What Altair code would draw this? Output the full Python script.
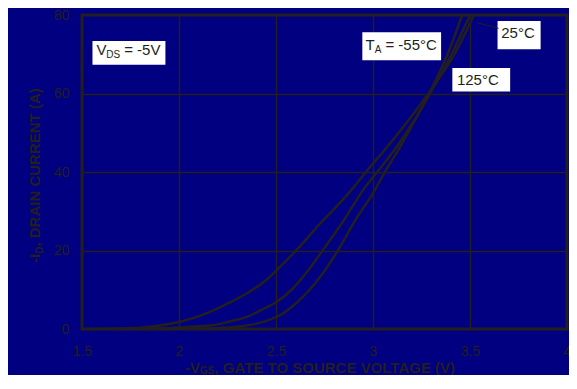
import altair as alt
import pandas as pd

# ---- curve data ----
series_names = ["125°C", "25°C", "-55°C"]

vgs_125 = [1.50, 1.60, 1.70, 1.80, 1.90, 2.00, 2.10, 2.18, 2.26, 2.35, 2.45, 2.51,
           2.59, 2.66, 2.73, 2.81, 2.89, 2.96, 3.06, 3.18, 3.30, 3.42, 3.52]
id_125 = [0.0, 0.05, 0.15, 0.35, 0.9, 1.8, 3.2, 4.8, 6.7, 9.1, 12.5, 15.3,
          19.3, 23.1, 27.0, 31.1, 35.5, 39.8, 45.6, 53.0, 61.0, 70.0, 80.0]

vgs_25 = [1.70, 1.85, 2.00, 2.10, 2.18, 2.26, 2.35, 2.43, 2.50, 2.58, 2.66, 2.74,
          2.84, 2.96, 3.02, 3.11, 3.21, 3.30, 3.40, 3.50]
id_25 = [0.0, 0.1, 0.4, 0.7, 1.0, 1.9, 3.1, 5.0, 6.8, 10.0, 14.6, 20.0,
         27.0, 36.2, 39.9, 45.6, 53.0, 60.5, 69.5, 80.0]

vgs_m55 = [1.90, 2.10, 2.26, 2.34, 2.41, 2.47, 2.52, 2.59, 2.67, 2.75, 2.82, 2.91,
           3.00, 3.06, 3.13, 3.22, 3.30, 3.38, 3.46]
id_m55 = [0.0, 0.1, 0.4, 0.8, 1.5, 2.4, 3.5, 6.0, 9.8, 14.8, 20.1, 27.8,
          34.6, 39.9, 45.6, 53.5, 61.0, 69.5, 80.0]

x_ticks = [1.5, 2, 2.5, 3, 3.5, 4]
y_ticks = [0, 20, 40, 60, 80]

# ---- annotation boxes and labels (data units) ----
box_x1 = [1.554, 2.945, 3.642, 3.409]
box_x2 = [1.930, 3.351, 3.864, 3.707]
box_y1 = [67.3, 68.5, 71.3, 60.5]
box_y2 = [73.4, 75.6, 78.5, 66.5]

label_text = ["V", "DS", "= -5V", "T", "A", "= -55°C", "25°C", "125°C"]
label_x = [1.5746, 1.6254, 1.7173, 2.9619, 3.0086, 3.0640, 3.6609, 3.4325]
label_y = [69.8, 68.97, 69.8, 71.08, 70.24, 71.08, 74.06, 62.17]
label_fs = [15, 10, 15, 15, 10, 15, 15, 15]

leader_x = [3.5355]
leader_x2 = [3.6472]
leader_y = [78.04]
leader_y2 = [76.61]

INK = "#231f20"
NAVY = "#000080"
FONT = "Liberation Sans"

rows = []
for name, xs, ys in zip(series_names, [vgs_125, vgs_25, vgs_m55], [id_125, id_25, id_m55]):
    for xv, yv in zip(xs, ys):
        rows.append({"series": name, "vgs": xv, "id": yv})
curves = pd.DataFrame(rows)

boxes = pd.DataFrame({"vgs": box_x1, "vgs2": box_x2, "id": box_y1, "id2": box_y2})
labels = pd.DataFrame({"vgs": label_x, "id": label_y, "label": label_text, "fs": label_fs})
leader = pd.DataFrame({"vgs": leader_x, "vgs2": leader_x2, "id": leader_y, "id2": leader_y2})

xscale = alt.Scale(domain=[1.5, 4], nice=False, zero=False)
yscale = alt.Scale(domain=[0, 80], nice=False, zero=False)

lines = alt.Chart(curves).mark_line(color=INK, strokeWidth=2.5, interpolate="monotone").encode(
    x=alt.X("vgs:Q", scale=xscale, title=None,
            axis=alt.Axis(values=x_ticks, format="~g")),
    y=alt.Y("id:Q", scale=yscale, title=None,
            axis=alt.Axis(values=y_ticks, format="d")),
    detail="series:N",
)

rects = alt.Chart(boxes).mark_rect(color="white").encode(
    x=alt.X("vgs:Q", title=None), x2="vgs2", y=alt.Y("id:Q", title=None), y2="id2"
)

lead = alt.Chart(leader).mark_rule(color=INK, strokeWidth=1).encode(
    x=alt.X("vgs:Q", title=None), x2="vgs2", y=alt.Y("id:Q", title=None), y2="id2"
)

texts = alt.Chart(labels).mark_text(align="left", baseline="alphabetic", font=FONT, color=INK).encode(
    x=alt.X("vgs:Q", title=None), y=alt.Y("id:Q", title=None), text="label:N",
    size=alt.Size("fs:Q", scale=None, legend=None),
)

one = alt.Data(values=[{}])


def tpiece(txt, px, py, fs, angle=0):
    kw = dict(text=txt, align="left", baseline="alphabetic", font=FONT, fontSize=fs,
              fontWeight="bold", color=INK)
    if angle:
        kw["angle"] = angle
    return alt.Chart(one).mark_text(**kw).encode(x=alt.value(px), y=alt.value(py))


# x axis title with subscript
xt1 = tpiece("-V", 103, 357.5, 15)
xt2 = tpiece("GS", 118, 358.5, 10)
xt3 = tpiece(", GATE TO SOURCE VOLTAGE (V)", 132.5, 357.5, 15)
# y axis title with subscript (rotated)
yt1 = tpiece("-I", -42, 248, 15, 270)
yt2 = tpiece("D", -39, 238.8, 10, 270)
yt3 = tpiece(", DRAIN CURRENT (A)", -42, 231.6, 15, 270)

chart = alt.layer(lines, rects, lead, texts, xt1, xt2, xt3, yt1, yt2, yt3).properties(
    width=485, height=314,
    autosize=alt.AutoSizeParams(type="none"),
    padding={"left": 74, "top": 7, "right": 2, "bottom": 46},
    background=NAVY,
).configure_view(
    stroke=INK, strokeWidth=3
).configure_axis(
    grid=True, gridColor=INK, gridWidth=1.5, gridOpacity=1,
    domain=False, ticks=False, tickSize=0,
    labelFont=FONT, labelFontSize=14, labelColor=INK,
    labelFlush=False, labelOverlap=False,
).configure_axisX(labelPadding=15).configure_axisY(labelPadding=13)

chart.save("out.html", embed_options={"renderer": "svg", "actions": False})
